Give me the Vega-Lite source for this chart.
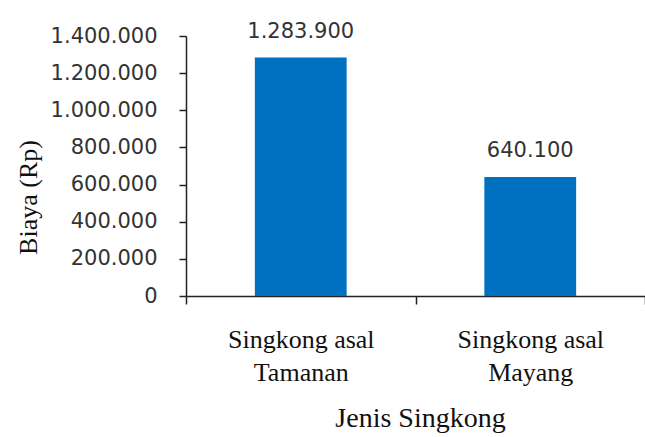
{
  "$schema": "https://vega.github.io/schema/vega-lite/v6.json",
  "width": 459,
  "height": 260,
  "autosize": {"type": "none"},
  "padding": {"left": 186, "top": 36, "right": 0, "bottom": 141},
  "background": "white",
  "config": {
    "locale": {"number": {"decimal": ",", "thousands": ".", "grouping": [3], "currency": ["Rp", ""]}},
    "view": {"stroke": null}
  },
  "data": {
    "values": [
      {"jenis": "Singkong asal Tamanan", "biaya": 1283900},
      {"jenis": "Singkong asal Mayang", "biaya": 640100}
    ]
  },
  "encoding": {
    "x": {
      "field": "jenis",
      "type": "nominal",
      "sort": null,
      "scale": {"paddingInner": 0, "paddingOuter": 0},
      "axis": {
        "title": "Jenis Singkong",
        "labelAngle": 0,
        "labelExpr": "[slice(datum.label, 0, 13), slice(datum.label, 14)]",
        "tickBand": "extent",
        "ticks": true,
        "tickSize": 8,
        "tickColor": "#222",
        "tickWidth": 1.5,
        "domainColor": "#222",
        "domainWidth": 1.5,
        "labelFont": "Liberation Serif",
        "labelFontSize": 26,
        "labelColor": "#111",
        "labelBaseline": "top",
        "labelPadding": 22,
        "labelLineHeight": 33,
        "titleFont": "Liberation Serif",
        "titleFontSize": 28,
        "titleFontWeight": "normal",
        "titleColor": "#111",
        "titleBaseline": "alphabetic",
        "titleAlign": "center",
        "titleX": 234,
        "titleY": 130,
        "grid": false
      }
    },
    "y": {
      "field": "biaya",
      "type": "quantitative",
      "scale": {"domain": [0, 1400000], "nice": false},
      "axis": {
        "title": "Biaya (Rp)",
        "values": [0, 200000, 400000, 600000, 800000, 1000000, 1200000, 1400000],
        "format": ",.0f",
        "grid": false,
        "tickSize": 7,
        "tickColor": "#222",
        "tickWidth": 1.5,
        "domainColor": "#222",
        "domainWidth": 1.5,
        "labelFont": "DejaVu Sans",
        "labelFontSize": 21,
        "labelColor": "#333",
        "labelPadding": 22,
        "titleFont": "Liberation Serif",
        "titleFontSize": 26,
        "titleFontWeight": "normal",
        "titleColor": "#111",
        "titleAngle": -90,
        "titleAlign": "center",
        "titleBaseline": "alphabetic",
        "titleX": -150,
        "titleY": 161
      }
    }
  },
  "layer": [
    {"mark": {"type": "bar", "color": "#0070C0", "width": {"band": 0.4}}},
    {
      "mark": {"type": "text", "baseline": "alphabetic", "dy": -20, "font": "DejaVu Sans", "fontSize": 21, "color": "#333"},
      "encoding": {"text": {"field": "biaya", "type": "quantitative", "format": ",.0f"}}
    }
  ]
}
